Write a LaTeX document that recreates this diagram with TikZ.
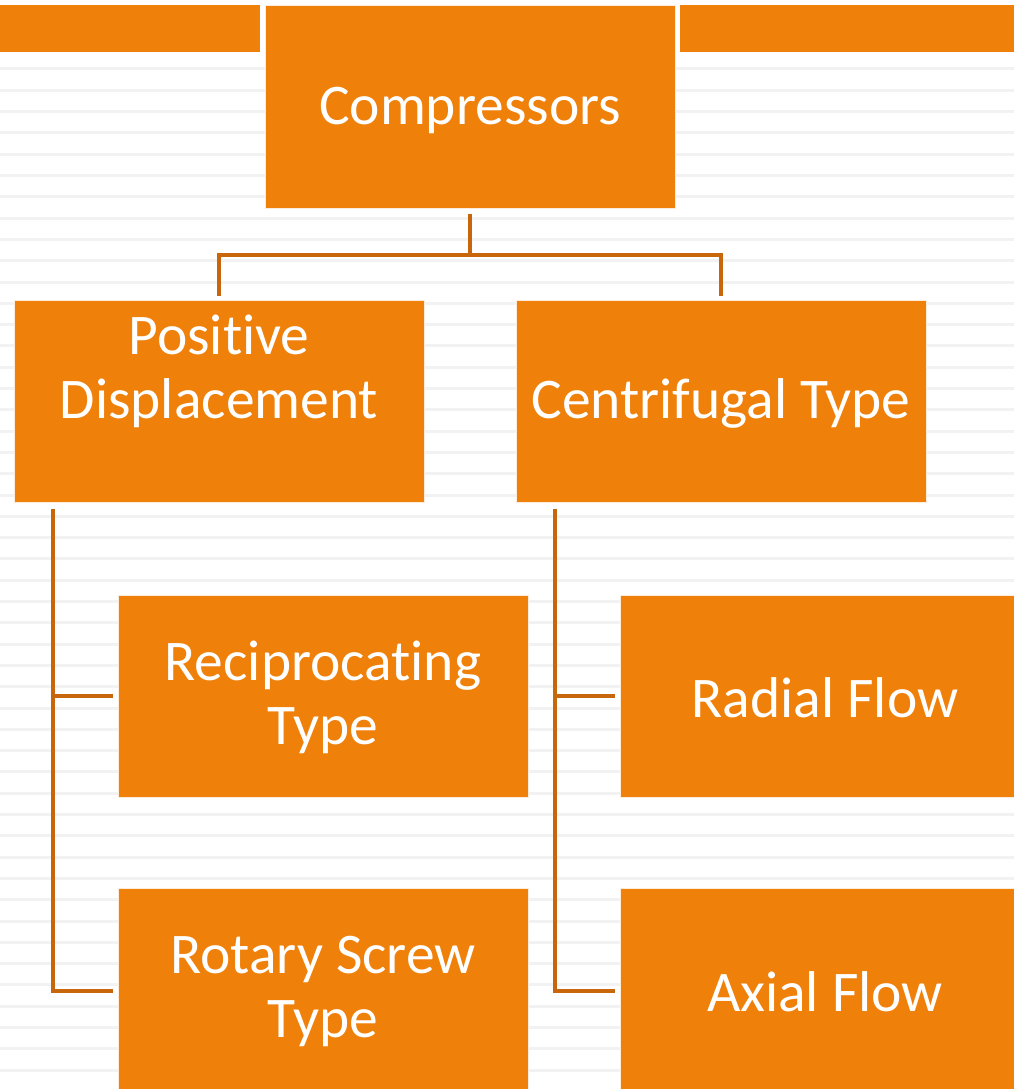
\documentclass[tikz,border=0pt]{standalone}
\usepackage{fontspec}
\setmainfont{Carlito}[Ligatures=NoCommon]
\definecolor{boxor}{RGB}{239,128,10}
\definecolor{connor}{RGB}{200,102,12}
\definecolor{stripe}{RGB}{242,242,242}
\tikzset{
  box/.style={fill=boxor, draw=white!85!boxor, line width=1pt, minimum width=410pt, minimum height=202pt, inner sep=0pt, text=white, font=\fontsize{57.5}{64}\selectfont, align=center},
  lbl/.style={text=white, font=\fontsize{57.5}{64}\selectfont, align=center, inner sep=0pt},
  conn/.style={draw=connor, line width=4pt}
}
\begin{document}
\begin{tikzpicture}[x=1pt,y=-1pt]
\useasboundingbox (0,0) rectangle (1014,1089);
\clip (0,0) rectangle (1014,1089);
\fill[white] (0,0) rectangle (1014,1089);
% background stripes
\foreach \i in {0,...,47} {
  \draw[stripe, line width=3pt] (0,69+21.3*\i) -- (1014,69+21.3*\i);
}
% top band
\fill[boxor] (0,5) rectangle (260,52);
\fill[boxor] (680,5) rectangle (1014,52);
% boxes
\node[box] (comp) at (470,107) {};
\node[lbl] (compt) at (470,110) {Compressors};
\node[box] (pd) at (219,401) {};
\node[lbl] (pdt) at (219,371) {Positive\\Displacement};
\node[box] (cent) at (721,401) {};
\node[lbl] (centt) at (721,403) {Centrifugal Type};
\node[box] (recip) at (323,696) {};
\node[lbl] (recipt) at (323,697) {Reciprocating\\Type};
\node[box] (radial) at (825,696) {};
\node[lbl] (radialt) at (825,698) {Radial Flow};
\node[box] (rotary) at (323,989) {};
\node[lbl] (rotaryt) at (323,991) {Rotary Screw\\Type};
\node[box] (axial) at (825,989) {};
\node[lbl] (axialt) at (825,992) {Axial Flow};
% connectors
\draw[conn] ([yshift=-5pt]comp.south) -- ++(0,41) coordinate (mid);
\draw[conn] ([yshift=4pt]pd.north) |- (mid) -| ([yshift=4pt]cent.north);
\draw[conn] ([xshift=39pt,yshift=-6pt]pd.south west) |- ([xshift=-5pt,yshift=-2pt]rotary.west);
\draw[conn] ([xshift=-5pt]recip.west) -- ++(-62,0);
\draw[conn] ([xshift=39pt,yshift=-6pt]cent.south west) |- ([xshift=-5pt,yshift=-2pt]axial.west);
\draw[conn] ([xshift=-5pt]radial.west) -- ++(-62,0);
\end{tikzpicture}
\end{document}
